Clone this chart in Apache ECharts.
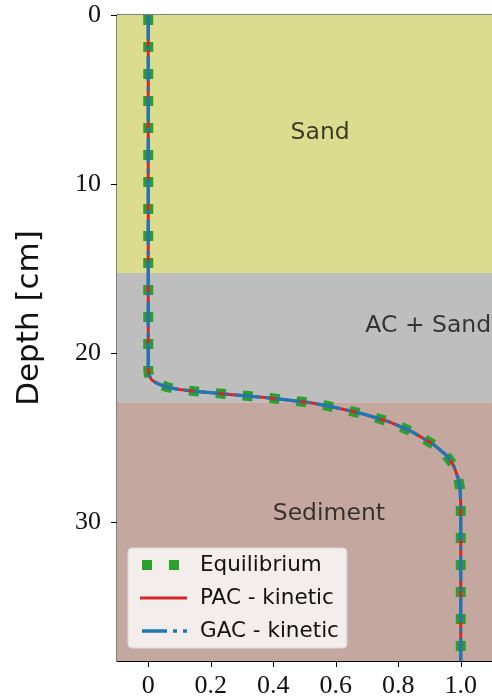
<!DOCTYPE html>
<html>
<head>
<meta charset="utf-8">
<script src="https://cdn.jsdelivr.net/npm/echarts@6/dist/echarts.min.js"></script>
<style>
  html, body { margin: 0; padding: 0; background: #fff; }
  #chart { width: 492px; height: 699px; }
</style>
</head>
<body>
<div id="chart"></div>
<script>
// depth profile [cm] and normalised concentration
var depth = [0, 1, 2, 3, 4, 5, 6, 7, 8, 9, 10, 11, 12, 13, 14, 15, 16, 17, 18, 19, 20, 21,
  21.3, 21.6, 21.8, 22.0, 22.15, 22.25, 22.35, 22.45, 22.55, 22.65, 22.78, 22.93, 23.1, 23.3,
  23.6, 24.05, 24.65, 25.4, 26.0, 26.6, 27.4, 28, 29, 30, 31, 32, 33, 34, 35, 36, 37, 38.2];
var equilibrium = [0, 0, 0, 0, 0, 0, 0, 0, 0, 0, 0, 0, 0, 0, 0, 0, 0, 0, 0, 0, 0, 0,
  0.002, 0.012, 0.03, 0.06, 0.1, 0.15, 0.21, 0.27, 0.33, 0.39, 0.45, 0.52, 0.57, 0.62,
  0.69, 0.77, 0.845, 0.913, 0.952, 0.976, 0.992, 0.998, 1, 1, 1, 1, 1, 1, 1, 1, 1, 1];
var pacKinetic = equilibrium.slice();
var gacKinetic = equilibrium.slice();

// layers: [top, bottom] depth
var layerNames = ['Sand', 'AC + Sand', 'Sediment'];
var layerTop = [0, 15.26, 22.9];
var layerBottom = [15.26, 22.9, 38.2];
var layerLabelX = [0.55, 0.896, 0.578];
var layerLabelY = [7.0, 18.4, 29.5];

var xTicks = [0, 0.2, 0.4, 0.6, 0.8, 1.0];
var yTicks = [0, 10, 20, 30];

function pairs(xs) {
  return xs.map(function (v, i) { return [v, depth[i]]; });
}

var layerColors = ['#dcdc8e', '#bebebe', '#c4a8a0'];
var eqStyle = { color: '#2ca02c', width: 10, type: [10, 17], cap: 'butt' };
var pacStyle = { color: '#d62728', width: 3 };
var gacStyle = { color: '#1f77b4', width: 3.3, type: [25, 6, 4, 6], cap: 'butt' };

var chart = echarts.init(document.getElementById('chart'));
var option = {
  animation: false,
  grid: {
    left: 117, right: -6, top: 15, bottom: 37,
    show: true, borderColor: '#000', borderWidth: 1, backgroundColor: 'transparent'
  },
  graphic: [{
    type: 'text', x: 30, y: 318, rotation: Math.PI / 2,
    style: {
      text: 'Depth [cm]', fontFamily: 'DejaVu Sans', fontSize: 31, fill: '#111',
      align: 'center', verticalAlign: 'middle'
    }
  }],
  legend: {
    left: 128, top: 548,
    orient: 'vertical',
    data: [
      { name: 'Equilibrium', itemStyle: { opacity: 0 }, lineStyle: Object.assign({ dashOffset: -2 }, eqStyle) },
      { name: 'PAC - kinetic', itemStyle: { opacity: 0 }, lineStyle: pacStyle },
      { name: 'GAC - kinetic', itemStyle: { opacity: 0 }, lineStyle: Object.assign({ dashOffset: -2 }, gacStyle) }
    ],
    itemWidth: 47, itemHeight: 14, itemGap: 11,
    padding: [6, 8, 6, 7],
    backgroundColor: 'rgba(255,255,255,0.8)',
    borderColor: '#d8d8d8', borderWidth: 1, borderRadius: 4,
    textStyle: { fontFamily: 'DejaVu Sans', fontSize: 21.5, color: '#111', lineHeight: 21, padding: [0, 0, 0, 8] }
  },
  xAxis: {
    type: 'value', min: -0.1, max: 1.1,
    axisLine: { show: true, onZero: false, lineStyle: { color: '#000', width: 1 } },
    axisTick: { show: true, length: 6, lineStyle: { color: '#000' }, customValues: xTicks },
    splitLine: { show: false },
    axisLabel: {
      customValues: xTicks, margin: 12,
      fontFamily: 'Liberation Serif', fontSize: 26, color: '#111',
      formatter: function (v) { return v === 0 ? '0' : v.toFixed(1); }
    }
  },
  yAxis: {
    type: 'value', inverse: true, min: 0, max: 38.2,
    axisLine: { show: true, onZero: false, lineStyle: { color: '#000', width: 1 } },
    axisTick: { show: true, length: 6, lineStyle: { color: '#000' }, customValues: yTicks },
    splitLine: { show: false },
    axisLabel: {
      customValues: yTicks, margin: 16,
      fontFamily: 'Liberation Serif', fontSize: 26, color: '#111'
    }
  },
  series: [
    {
      name: 'layers', type: 'line', data: [], z: 0, silent: true,
      markArea: {
        silent: true,
        data: layerNames.map(function (n, i) {
          return [{ yAxis: layerTop[i], itemStyle: { color: layerColors[i] } }, { yAxis: layerBottom[i] }];
        })
      }
    },
    {
      name: 'layer labels', type: 'scatter', symbolSize: 0, z: 1, silent: true,
      data: layerNames.map(function (n, i) { return { name: n, value: [layerLabelX[i], layerLabelY[i]] }; }),
      label: {
        show: true, position: 'inside', formatter: '{b}',
        fontFamily: 'DejaVu Sans', fontSize: 23.5, color: '#111'
      }
    },
    {
      name: 'Equilibrium', type: 'line', data: pairs(equilibrium), z: 2,
      symbol: 'none', color: '#2ca02c', lineStyle: eqStyle
    },
    {
      name: 'PAC - kinetic', type: 'line', data: pairs(pacKinetic), z: 3,
      symbol: 'none', color: '#d62728', lineStyle: pacStyle
    },
    {
      name: 'GAC - kinetic', type: 'line', data: pairs(gacKinetic), z: 4,
      symbol: 'none', color: '#1f77b4', lineStyle: gacStyle
    }
  ]
};
chart.setOption(option);
</script>
</body>
</html>
